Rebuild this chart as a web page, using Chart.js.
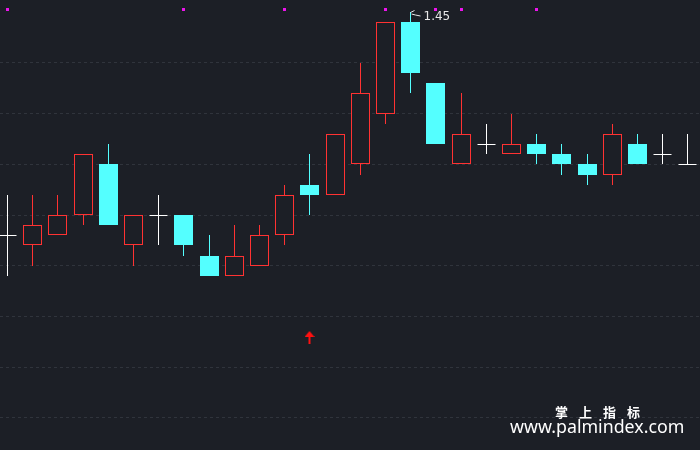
<!DOCTYPE html>
<html>
<head>
<meta charset="utf-8">
<script src="https://cdn.jsdelivr.net/npm/chart.js@4"></script>
<style>
  html, body { margin: 0; padding: 0; background: #1c1f26; }
  #wrap { position: relative; width: 700px; height: 450px; }
  .wm1 { position: absolute; left: 555px; top: 402px; color: #fff; font: bold 13px "Noto Sans CJK SC", sans-serif; letter-spacing: 11px; }
  .wm2 { position: absolute; left: 510px; top: 414px; color: #fff; font: 17.8px "Noto Sans", sans-serif; }
</style>
</head>
<body>
<div id="wrap">
  <canvas id="kline"></canvas>
  <div class="wm1">掌上指标</div>
  <div class="wm2">www.palmindex.com</div>
</div>
<script>
// Candle values (price scale: one grid line every 0.05)
const opens  = [1.23, 1.22, 1.23, 1.25, 1.30, 1.22, 1.25, 1.25, 1.21, 1.19, 1.20, 1.23, 1.28, 1.27,
                1.30, 1.35, 1.44, 1.38, 1.30, 1.32, 1.31, 1.32, 1.31, 1.30, 1.29, 1.32, 1.31, 1.30];
const highs  = [1.27, 1.27, 1.27, 1.31, 1.32, 1.25, 1.27, 1.25, 1.23, 1.24, 1.24, 1.28, 1.31, 1.33,
                1.40, 1.44, 1.45, 1.38, 1.37, 1.34, 1.35, 1.33, 1.32, 1.31, 1.34, 1.33, 1.33, 1.33];
const lows   = [1.19, 1.20, 1.23, 1.24, 1.24, 1.20, 1.22, 1.21, 1.19, 1.19, 1.20, 1.22, 1.25, 1.27,
                1.29, 1.34, 1.37, 1.32, 1.30, 1.31, 1.31, 1.30, 1.29, 1.28, 1.28, 1.30, 1.30, 1.30];
const closes = [1.23, 1.24, 1.25, 1.31, 1.24, 1.25, 1.25, 1.22, 1.19, 1.21, 1.23, 1.27, 1.27, 1.33,
                1.37, 1.44, 1.39, 1.32, 1.33, 1.32, 1.32, 1.31, 1.30, 1.29, 1.33, 1.30, 1.31, 1.30];
// bars carrying the magenta marker on top, and the bar with the up arrow below
const markIdx = [0, 7, 11, 15, 17, 18, 21];
const markLevel = 1.4523;
const arrowIdx = [12];
const arrowLevel = 1.129;
const gridTicks = [1.05, 1.10, 1.15, 1.20, 1.25, 1.30, 1.35, 1.40];

const BG = '#1c1f26';
const RED = '#ff3232';
const CYAN = '#54ffff';
const WHITE = '#ffffff';

const idx = opens.map((_, i) => i);
const kind = i => closes[i] > opens[i] ? 'up' : (closes[i] < opens[i] ? 'down' : 'flat');
const colorOf = i => ({ up: RED, down: CYAN, flat: WHITE })[kind(i)];

const bodies = idx.filter(i => kind(i) !== 'flat')
  .map(i => ({ x: i, y: [opens[i], closes[i]] }));
const upperWicks = idx.map(i => ({ x: i, y: [Math.max(opens[i], closes[i]), highs[i]] }));
const lowerWicks = idx.map(i => ({ x: i, y: [lows[i], Math.min(opens[i], closes[i])] }));
const dojis = idx.filter(i => kind(i) === 'flat').map(i => ({ x: i, y: opens[i] }));

// little red up arrow used as point style
const arrow = document.createElement('canvas');
arrow.width = 10; arrow.height = 13;
(function () {
  const c = arrow.getContext('2d');
  c.fillStyle = '#ff1010';
  c.beginPath();
  c.moveTo(5, 0); c.lineTo(10, 6); c.lineTo(0, 6); c.closePath(); c.fill();
  c.fillRect(4, 5, 2, 8);
})();

// snap candle geometry to whole pixels so 1px lines stay crisp
const snap = {
  id: 'snap',
  beforeDatasetsDraw(chart) {
    chart.data.datasets.forEach((ds, i) => {
      const meta = chart.getDatasetMeta(i);
      meta.data.forEach(el => {
        el.x = Math.floor(el.x) + 0.5;
        if (meta.type === 'bar') {
          el.y = Math.round(el.y);
          el.base = Math.round(el.base);
        } else {
          el.y = Math.floor(el.y) + 0.5;
        }
      });
    });
  }
};

// label at the highest high
const highLabel = {
  id: 'highLabel',
  afterDatasetsDraw(chart) {
    const { ctx, scales } = chart;
    let k = 0;
    highs.forEach((h, i) => { if (h > highs[k]) k = i; });
    const x = Math.floor(scales.x.getPixelForValue(k)) + 0.5;
    const y = Math.round(scales.y.getPixelForValue(highs[k]));
    ctx.save();
    ctx.strokeStyle = '#e8e8e8';
    ctx.lineWidth = 1;
    ctx.beginPath();
    ctx.moveTo(x, y + 0.5);
    ctx.lineTo(x + 4, y - 1.5);
    ctx.moveTo(x + 1, y + 2);
    ctx.lineTo(x + 5, y + 3);
    ctx.lineTo(x + 10, y + 4);
    ctx.stroke();
    ctx.fillStyle = '#e8e8e8';
    ctx.font = '12px "DejaVu Sans", sans-serif';
    ctx.textBaseline = 'middle';
    ctx.fillText(highs[k].toFixed(2), x + 13, y + 5);
    ctx.restore();
  }
};

new Chart(document.getElementById('kline'), {
  type: 'bar',
  data: {
    datasets: [
      {
        data: upperWicks, barThickness: 1, grouped: false, borderWidth: 0, inflateAmount: 0,
        backgroundColor: c => colorOf(c.dataIndex)
      },
      {
        data: lowerWicks, barThickness: 1, grouped: false, borderWidth: 0, inflateAmount: 0,
        backgroundColor: c => colorOf(c.dataIndex)
      },
      {
        data: bodies, barThickness: 19, grouped: false, borderWidth: 1, borderSkipped: false,
        inflateAmount: 0,
        borderColor: c => colorOf(c.raw.x),
        backgroundColor: c => kind(c.raw.x) === 'up' ? BG : CYAN
      },
      {
        type: 'scatter', data: dojis, pointStyle: 'line', pointRadius: 9,
        borderColor: WHITE, borderWidth: 1
      },
      {
        type: 'scatter', data: markIdx.map(i => ({ x: i, y: markLevel })),
        pointStyle: 'rect', pointRadius: 2.1, backgroundColor: '#f014f0', borderWidth: 0
      },
      {
        type: 'scatter', data: arrowIdx.map(i => ({ x: i, y: arrowLevel })),
        pointStyle: arrow
      }
    ]
  },
  options: {
    responsive: true,
    maintainAspectRatio: false,
    animation: false,
    layout: { padding: 0, autoPadding: false },
    plugins: { legend: { display: false }, tooltip: { enabled: false } },
    scales: {
      x: {
        type: 'linear', display: false, offset: false,
        min: -7.5 / 25.2, max: 692.5 / 25.2
      },
      y: {
        min: 1.0183, max: 1.4621,
        afterBuildTicks: s => { s.ticks = gridTicks.map(v => ({ value: v })); },
        ticks: { display: false },
        grid: { color: '#30343c', drawTicks: false, lineWidth: 1 },
        border: { display: false, dash: [3, 3] }
      }
    }
  },
  plugins: [snap, highLabel]
});
</script>
</body>
</html>
